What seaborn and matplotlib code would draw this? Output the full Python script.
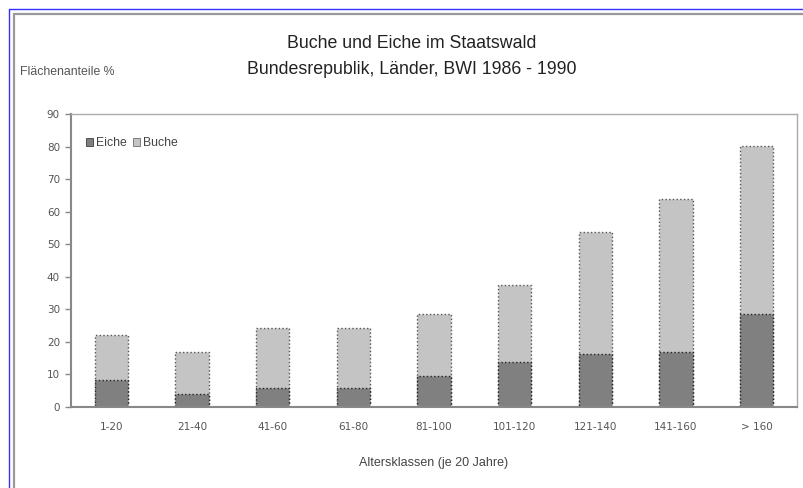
import matplotlib
matplotlib.use("Agg")
import matplotlib.pyplot as plt
import seaborn as sns
import pandas as pd
from matplotlib.patches import Patch
from matplotlib.lines import Line2D

categories = ["1-20", "21-40", "41-60", "61-80", "81-100", "101-120", "121-140", "141-160", "> 160"]
eiche = [8.2, 4.1, 5.7, 5.7, 9.5, 13.8, 16.4, 17.0, 28.6]
buche = [13.8, 12.7, 18.5, 18.6, 19.1, 23.7, 37.3, 47.0, 51.7]
yticks = [0, 10, 20, 30, 40, 50, 60, 70, 80, 90]

sns.set_style("white")
plt.rcParams['font.family'] = ['Liberation Sans', 'DejaVu Sans']

df = pd.DataFrame({"Klasse": categories, "Eiche": eiche, "Buche": buche})
df["Gesamt"] = df["Eiche"] + df["Buche"]

fig = plt.figure(figsize=(8.04, 4.88), dpi=100)
ax = fig.add_axes([71/804, (488-407)/488, (797-71)/804, (407-114)/488])

c_eiche = "#808080"
c_buche = "#c4c4c4"
sns.barplot(data=df, x="Klasse", y="Gesamt", color=c_buche, width=0.41, ax=ax,
            edgecolor="#555555", linewidth=1.0, linestyle=":", saturation=1)
sns.barplot(data=df, x="Klasse", y="Eiche", color=c_eiche, width=0.41, ax=ax,
            edgecolor="#222222", linewidth=1.0, linestyle=":", saturation=1)

tickfont = dict(family=["DejaVu Sans"], size=7.5)
ax.set_xlim(-0.5, len(categories) - 0.5)
ax.set_ylim(0, 90)
ax.set_yticks(yticks)
ax.set_yticklabels([str(v) for v in yticks], fontdict=tickfont, color="#555555")
ax.set_xticks(range(len(categories)))
ax.set_xticklabels(categories, fontdict=tickfont, color="#555555")
ax.set_xticks([i - 0.5 for i in range(len(categories) + 1)], minor=True)
ax.tick_params(axis="x", which="major", length=0, pad=11)
ax.tick_params(axis="x", which="minor", length=4, direction="inout", color="#888888", width=0.8)
ax.tick_params(axis="y", which="major", length=4, direction="out", color="#888888", width=1, pad=4, left=True)
ax.set_xlabel("Altersklassen (je 20 Jahre)", fontsize=9, color="#444444", labelpad=18)
ax.set_ylabel("")
for s in ["left", "bottom"]:
    ax.spines[s].set_color("#888888")
    ax.spines[s].set_linewidth(1.5)
for s in ["top", "right"]:
    ax.spines[s].set_color("#aaaaaa")
    ax.spines[s].set_linewidth(1.0)

fig.text(412/804, 1 - 44/488, "Buche und Eiche im Staatswald", ha="center", va="center",
         fontsize=12.8, color="#222222")
fig.text(412/804, 1 - 70/488, "Bundesrepublik, Länder, BWI 1986 - 1990", ha="center", va="center",
         fontsize=12.8, color="#222222")
fig.text(20/804, 1 - 72/488, "Flächenanteile %", ha="left", va="center", fontsize=8.8, color="#555555")

handles = [Patch(facecolor=c_eiche, edgecolor="#222222", linewidth=0.5),
           Patch(facecolor=c_buche, edgecolor="#555555", linewidth=0.5)]
fig.legend(handles, ["Eiche", "Buche"], loc="center left", bbox_to_anchor=(80/804, 1 - 143/488),
           ncol=2, frameon=False, fontsize=8.8, handlelength=0.6, handleheight=0.6,
           handletextpad=0.2, columnspacing=0.5, labelcolor="#444444", borderpad=0)

# frame lines
fig.add_artist(Line2D([9/804, 1], [1 - 9/488, 1 - 9/488], transform=fig.transFigure, color="#3030ff", lw=1))
fig.add_artist(Line2D([9/804, 9/804], [0, 1 - 9/488], transform=fig.transFigure, color="#3030ff", lw=1))
fig.add_artist(Line2D([14/804, 1], [1 - 14/488, 1 - 14/488], transform=fig.transFigure, color="#999999", lw=1.6))
fig.add_artist(Line2D([14/804, 14/804], [0, 1 - 14/488], transform=fig.transFigure, color="#999999", lw=1.6))

fig.savefig("out.png", dpi=100)
